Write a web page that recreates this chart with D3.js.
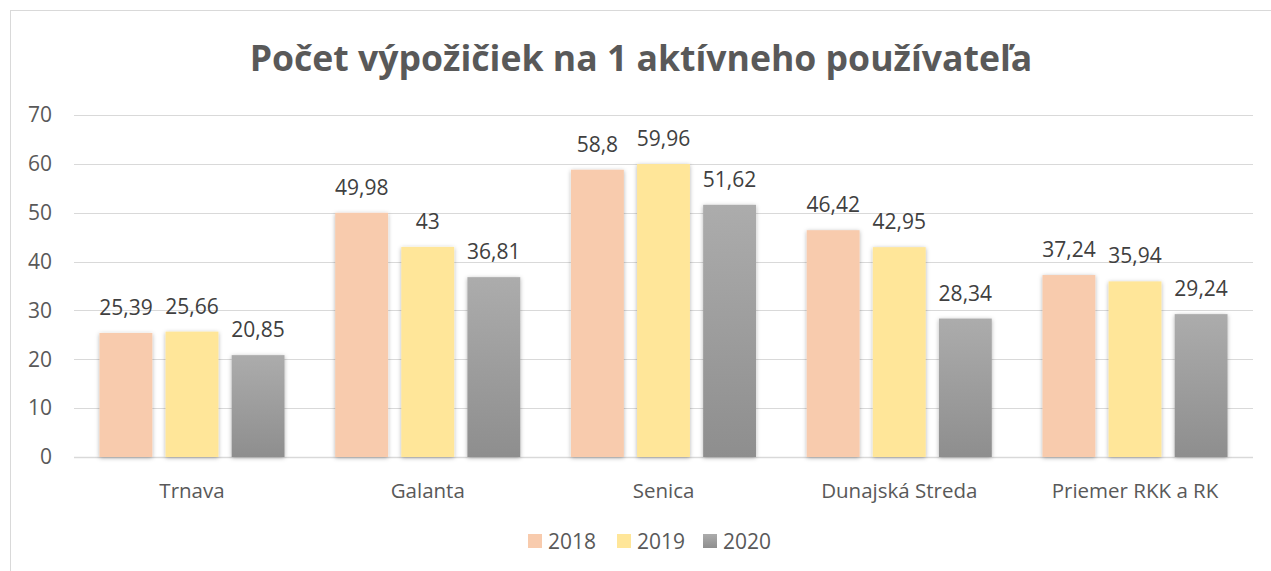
<!DOCTYPE html>
<html>
<head>
<meta charset="utf-8">
<script src="https://cdn.jsdelivr.net/npm/d3@7"></script>
<style>
  html, body { margin: 0; padding: 0; background: #fff; }
  svg { display: block; font-family: "Open Sans", sans-serif; }
</style>
</head>
<body>
<div id="chart"></div>
<script>
const categories = ['Trnava', 'Galanta', 'Senica', 'Dunajská Streda', 'Priemer RKK a RK'];
const years = ['2018', '2019', '2020'];
const values2018 = [25.39, 49.98, 58.8, 46.42, 37.24];
const values2019 = [25.66, 43, 59.96, 42.95, 35.94];
const values2020 = [20.85, 36.81, 51.62, 28.34, 29.24];
const yTicks = [0, 10, 20, 30, 40, 50, 60, 70];

const seriesValues = [values2018, values2019, values2020];
const fills = ['#f8cbad', '#ffe699', 'url(#grayGrad)'];

const width = 1271, height = 571;
const margin = { top: 115, right: 18, bottom: 114, left: 74 };

const svg = d3.select('#chart').append('svg')
    .attr('width', width)
    .attr('height', height);

const defs = svg.append('defs');
const grad = defs.append('linearGradient')
    .attr('id', 'grayGrad')
    .attr('x1', 0).attr('y1', 0).attr('x2', 0).attr('y2', 1);
grad.append('stop').attr('offset', '0%').attr('stop-color', '#acacac');
grad.append('stop').attr('offset', '100%').attr('stop-color', '#8e8e8e');

const shadow = defs.append('filter')
    .attr('id', 'barShadow')
    .attr('x', '-30%').attr('y', '-10%').attr('width', '160%').attr('height', '120%');
shadow.append('feDropShadow')
    .attr('dx', 0).attr('dy', 1)
    .attr('stdDeviation', 2.2)
    .attr('flood-color', '#000')
    .attr('flood-opacity', 0.3);

// chart frame
svg.append('rect')
    .attr('x', 10.5).attr('y', 10.5)
    .attr('width', 1300).attr('height', 600)
    .attr('fill', 'none')
    .attr('stroke', '#d9d9d9');

// title
svg.append('text')
    .attr('x', 641)
    .attr('y', 71)
    .attr('text-anchor', 'middle')
    .attr('font-size', 35.6)
    .attr('font-weight', 'bold')
    .attr('fill', '#595959')
    .text('Počet výpožičiek na 1 aktívneho používateľa');

const x0 = d3.scaleBand()
    .domain(categories)
    .range([margin.left, width - margin.right])
    .paddingInner(0.215)
    .paddingOuter(0.108);

const x1 = d3.scaleBand()
    .domain(years)
    .range([0, x0.bandwidth()])
    .paddingInner(0.2)
    .paddingOuter(0);

const y = d3.scaleLinear()
    .domain([0, 70])
    .range([height - margin.bottom, margin.top]);

// gridlines
svg.append('g')
    .selectAll('line')
    .data(yTicks)
    .join('line')
    .attr('x1', margin.left)
    .attr('x2', width - margin.right)
    .attr('y1', d => Math.round(y(d)) + 0.5)
    .attr('y2', d => Math.round(y(d)) + 0.5)
    .attr('stroke', '#d9d9d9')
    .attr('stroke-width', d => d === 0 ? 1.5 : 1);

// y axis labels
const yAxis = svg.append('g')
    .attr('transform', `translate(${margin.left - 22},0)`)
    .call(d3.axisLeft(y).tickValues(yTicks).tickSize(0).tickPadding(0));
yAxis.select('.domain').remove();
yAxis.selectAll('text')
    .attr('font-family', '"Open Sans", sans-serif')
    .attr('font-size', 21)
    .attr('fill', '#595959');

// bars
const groups = svg.append('g')
    .selectAll('g')
    .data(categories)
    .join('g')
    .attr('transform', d => `translate(${x0(d)},0)`);

const barData = (c, i) => years.map((yr, s) => ({ year: yr, s, value: seriesValues[s][i] }));

groups.selectAll('rect')
    .data((c, i) => barData(c, i))
    .join('rect')
    .attr('x', d => x1(d.year))
    .attr('y', d => y(d.value))
    .attr('width', x1.bandwidth())
    .attr('height', d => y(0) - y(d.value))
    .attr('fill', d => fills[d.s])
    .attr('filter', 'url(#barShadow)');

groups.selectAll('text')
    .data((c, i) => barData(c, i))
    .join('text')
    .attr('x', d => x1(d.year) + x1.bandwidth() / 2)
    .attr('y', d => y(d.value) - 18)
    .attr('text-anchor', 'middle')
    .attr('font-size', 21)
    .attr('fill', '#404040')
    .text(d => String(d.value).replace('.', ','));

// x axis labels
const xAxis = svg.append('g')
    .attr('transform', `translate(0,${y(0)})`)
    .call(d3.axisBottom(x0).tickSize(0).tickPadding(26));
xAxis.select('.domain').remove();
xAxis.selectAll('text')
    .attr('font-family', '"Open Sans", sans-serif')
    .attr('font-size', 20.5)
    .attr('fill', '#595959');

// legend
const legendX = [528, 617, 703];
const legend = svg.append('g')
    .selectAll('g')
    .data(years)
    .join('g')
    .attr('transform', (d, i) => `translate(${legendX[i]},541)`);
legend.append('rect')
    .attr('x', 0).attr('y', -7)
    .attr('width', 14).attr('height', 14)
    .attr('fill', (d, i) => fills[i]);
legend.append('text')
    .attr('x', 20)
    .attr('y', 8)
    .attr('font-size', 21)
    .attr('fill', '#595959')
    .text(d => d);
</script>
</body>
</html>
